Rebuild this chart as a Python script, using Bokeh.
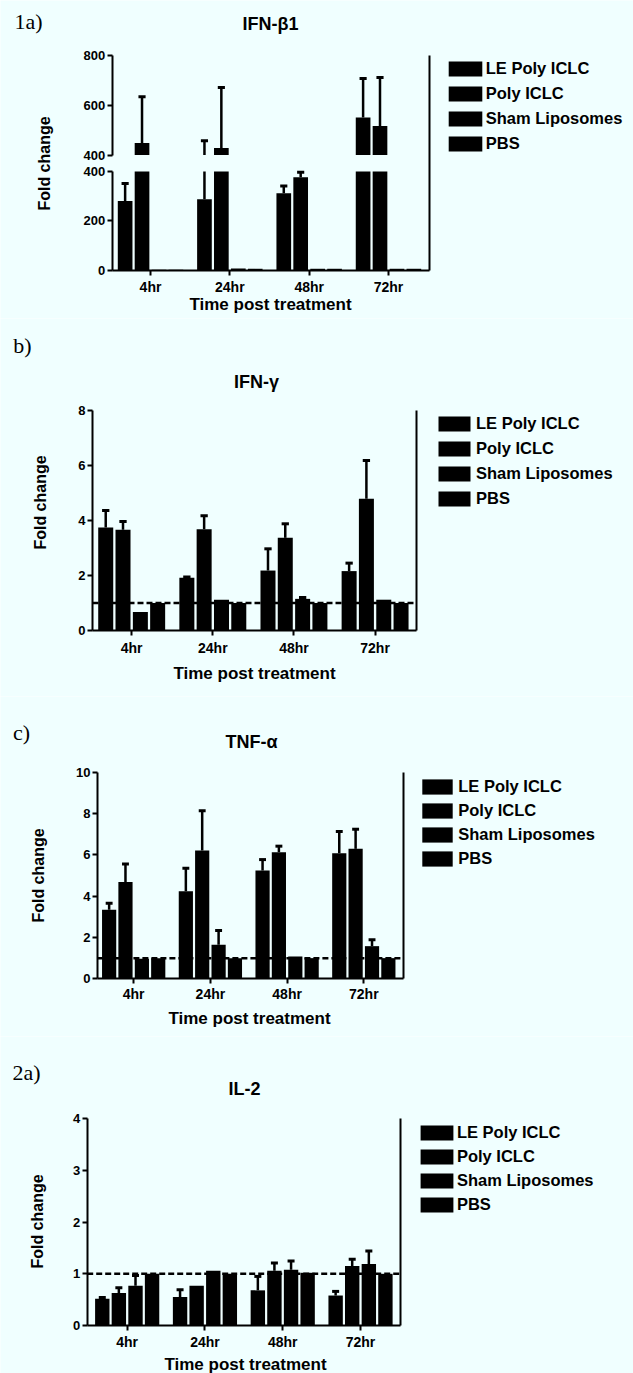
import numpy as np
from bokeh.plotting import figure
from bokeh.models import Range1d, FixedTicker, Label, Legend, LegendItem, LinearAxis
from bokeh.layouts import column
from bokeh.embed import file_html
from bokeh.resources import INLINE

# ---------------- data ----------------
times = ["4hr", "24hr", "48hr", "72hr"]
series = ["LE Poly ICLC", "Poly ICLC", "Sham Liposomes", "PBS"]

# 1a) IFN-beta1  (broken axis 0-400 / 400-800)
ifnb_le = [280, 287, 312, 551]
ifnb_le_err = [71, 170, 29, 157]
ifnb_poly = [448, 428, 377, 517]
ifnb_poly_err = [186, 243, 20, 195]
ifnb_sham = [1, 6, 5, 5]
ifnb_sham_err = [0, 0, 0, 0]
ifnb_pbs = [1, 5, 5, 5]
ifnb_pbs_err = [0, 0, 0, 0]
ifnb_lower_ticks = [0, 200, 400]
ifnb_upper_ticks = [400, 600, 800]

# b) IFN-gamma
ifng_le = [3.75, 1.92, 2.18, 2.16]
ifng_le_err = [0.61, 0.03, 0.79, 0.29]
ifng_poly = [3.66, 3.68, 3.37, 4.79]
ifng_poly_err = [0.30, 0.49, 0.51, 1.39]
ifng_sham = [0.67, 1.12, 1.15, 1.12]
ifng_sham_err = [0.0, 0.0, 0.05, 0.0]
ifng_pbs = [1.0, 1.0, 1.0, 1.0]
ifng_pbs_err = [0.0, 0.0, 0.0, 0.0]
ifng_ticks = [0, 2, 4, 6, 8]

# c) TNF-alpha
tnfa_le = [3.34, 4.24, 5.24, 6.08]
tnfa_le_err = [0.32, 1.11, 0.53, 1.05]
tnfa_poly = [4.68, 6.21, 6.13, 6.29]
tnfa_poly_err = [0.88, 1.93, 0.29, 0.95]
tnfa_sham = [0.97, 1.65, 1.08, 1.58]
tnfa_sham_err = [0.0, 0.69, 0.0, 0.31]
tnfa_pbs = [1.0, 1.0, 1.0, 1.0]
tnfa_pbs_err = [0.0, 0.0, 0.0, 0.0]
tnfa_ticks = [0, 2, 4, 6, 8, 10]

# 2a) IL-2
il2_le = [0.52, 0.55, 0.68, 0.58]
il2_le_err = [0.02, 0.14, 0.27, 0.08]
il2_poly = [0.63, 0.77, 1.06, 1.15]
il2_poly_err = [0.10, 0.0, 0.15, 0.13]
il2_sham = [0.77, 1.06, 1.08, 1.19]
il2_sham_err = [0.20, 0.0, 0.17, 0.25]
il2_pbs = [1.0, 1.0, 1.02, 1.0]
il2_pbs_err = [0.0, 0.0, 0.0, 0.0]
il2_ticks = [0, 1, 2, 3, 4]

REF_LEVEL = 1.0   # dashed "no change" line

# ---------------- style ----------------
BG = "#F0FFFF"
FONT = "Liberation Sans"
SERIF = "Liberation Serif"
W = 633
OFFSETS = [-0.32, -0.107, 0.107, 0.32]
BAR_W = 0.185
CAP = 0.045


def draw_series(p, xs, vals, errs, lo, hi, rname):
    xs = np.asarray(xs, float)
    vals = np.asarray(vals, float)
    errs = np.asarray(errs, float)
    bot = np.full_like(vals, lo)
    top = np.minimum(vals, hi)
    m = top > bot
    r = p.vbar(x=xs[m], bottom=bot[m], top=top[m], width=BAR_W,
               fill_color="black", line_color=None, y_range_name=rname)
    e0 = np.clip(vals, lo, hi)
    e1 = np.clip(vals + errs, lo, hi)
    m = e1 > e0
    p.segment(x0=xs[m], y0=e0[m], x1=xs[m], y1=e1[m], line_color="black",
              line_width=2.5, y_range_name=rname)
    cap = vals + errs
    m = (errs > 0) & (cap >= lo) & (cap <= hi)
    p.segment(x0=xs[m] - CAP, y0=cap[m], x1=xs[m] + CAP, y1=cap[m],
              line_color="black", line_width=3, y_range_name=rname)
    return r


def style_axis(a, size):
    a.axis_line_width = 2
    a.axis_line_color = "black"
    a.major_tick_line_width = 2
    a.major_tick_line_color = "black"
    a.minor_tick_line_color = None
    a.major_tick_in = 0
    a.major_tick_out = 5
    a.major_label_text_font = FONT
    a.major_label_text_font_style = "bold"
    a.major_label_text_font_size = size
    a.major_label_text_color = "black"


def make_panel(g, data, title, letter, yticks=None, ymax=None, broken=False):
    ftop, fbot = g["fig_top"], g["fig_bot"]
    H = fbot - ftop
    ax, rx = g["axis_x"], g["right_x"]
    y0, yt = g["y0"], g["ytop"]
    x0, x1 = g["xr"]
    sx = (rx - ax) / (x1 - x0)
    if broken:
        sy = (y0 - g["y400l"]) / 400.0
    else:
        sy = (y0 - yt) / ymax

    def DX(px):
        return x0 + (px - ax) / sx

    def DY(py):
        return (y0 - py) / sy

    p = figure(width=W, height=H, title=None,
               x_range=Range1d(DX(0), DX(W)), y_range=Range1d(DY(fbot), DY(ftop)),
               output_backend="svg", toolbar_location=None, min_border=0)
    p.background_fill_color = BG
    p.border_fill_color = BG
    p.outline_line_color = None
    p.xgrid.visible = False
    p.ygrid.visible = False

    xs_all = [[i + OFFSETS[k] for i in range(len(times))] for k in range(4)]
    renderers = []
    if broken:
        py_u = (g["y400u"] - yt) / 400.0
        p.extra_y_ranges = {"upper": Range1d(400 - (fbot - g["y400u"]) / py_u,
                                             400 + (g["y400u"] - ftop) / py_u)}
        for k, (v, e) in enumerate(data):
            r = draw_series(p, xs_all[k], v, e, 0, 400, "default")
            draw_series(p, xs_all[k], v, e, 400, 800, "upper")
            renderers.append(r)
        ytop_val = DY(yt)
    else:
        for k, (v, e) in enumerate(data):
            r = draw_series(p, xs_all[k], v, e, 0, ymax, "default")
            renderers.append(r)
        ytop_val = ymax
        p.segment(x0=[x0], x1=[x1], y0=[REF_LEVEL], y1=[REF_LEVEL], line_color="black",
                  line_width=2.5, line_dash="6 3")

    # x axis (category ticks), fixed at y = 0
    xa = p.xaxis[0]
    xa.fixed_location = 0
    xa.bounds = (x0, x1)
    xa.ticker = FixedTicker(ticks=list(range(len(times))))
    xa.major_label_overrides = {i: t for i, t in enumerate(times)}
    xa.major_label_standoff = g["xstand"]
    style_axis(xa, "14px")

    # y axis fixed at the left edge of the data area
    ya = p.yaxis[0]
    ya.fixed_location = x0
    if broken:
        ya.ticker = FixedTicker(ticks=ifnb_lower_ticks)
        ya.bounds = (0, 400)
        ya2 = LinearAxis(y_range_name="upper", fixed_location=x0, bounds=(400, 800),
                         ticker=FixedTicker(ticks=ifnb_upper_ticks))
        ya2.major_label_standoff = 2
        style_axis(ya2, "13px")
        p.add_layout(ya2, "left")
    else:
        ya.ticker = FixedTicker(ticks=yticks)
        ya.bounds = (0, ymax)
    ya.major_label_standoff = 2
    style_axis(ya, "13px")

    # right frame line
    rax = LinearAxis(fixed_location=x1, bounds=(0, ytop_val), ticker=FixedTicker(ticks=[]))
    rax.axis_line_width = 2
    rax.axis_line_color = "black"
    rax.major_tick_line_color = None
    rax.minor_tick_line_color = None
    rax.major_label_text_font_size = "0px"
    p.add_layout(rax, "right")

    # legend
    gw = (g["lg_x1"] - g["lg_x0"]) / 0.8
    gh = 19
    box_left = g["lg_x0"] - 0.1 * gw
    spacing = int(round(g["lg_dy"] - gh))
    leg_top = g["lg_y"] - gh / 2.0
    leg_h = 4 * gh + 3 * spacing
    standoff = max(0, int(round(g["lg_lx"] - (g["lg_x1"] + 0.1 * gw))))
    items = [LegendItem(label=s, renderers=[r]) for s, r in zip(series, renderers)]
    leg = Legend(items=items, location=(box_left, fbot - (leg_top + leg_h)),
                 glyph_width=int(round(gw)), glyph_height=gh, label_height=gh,
                 label_standoff=standoff, spacing=spacing, padding=0, margin=0,
                 border_line_color=None, background_fill_alpha=0,
                 label_text_font=FONT, label_text_font_style="bold",
                 label_text_font_size="16.5px", label_text_color="black")
    p.add_layout(leg)

    def lab(text, pos, size, font=FONT, style="bold", angle=0.0):
        p.add_layout(Label(x=DX(pos[0]), y=DY(pos[1]), text=text, text_font=font,
                           text_font_size=size, text_font_style=style, text_color="black",
                           text_align="center", text_baseline="middle", angle=angle))

    lab(title, g["title"], "18px")
    lab(letter, g["letter"], "22px", font=SERIF, style="normal")
    lab("Fold change", g["fold"], "16px", angle=np.pi / 2)
    lab("Time post treatment", g["xlabel"], "17px")
    return p


g1 = dict(fig_top=0, fig_bot=318, axis_x=111.7, right_x=429, y0=269.5, ytop=55,
          xr=(-0.483, 3.517), y400l=171, y400u=154.5, xstand=4,
          title=(270, 23), letter=(28, 21), fold=(44, 163), xlabel=(270, 304),
          lg_x0=448, lg_x1=482, lg_y=68, lg_dy=25, lg_lx=485)
g2 = dict(fig_top=318, fig_bot=696, axis_x=92, right_x=415.8, y0=630, ytop=410,
          xr=(-0.483, 3.508), xstand=4,
          title=(256, 381), letter=(22, 345), fold=(40, 502), xlabel=(254, 673),
          lg_x0=438, lg_x1=470, lg_y=423, lg_dy=25.5, lg_lx=476)
g3 = dict(fig_top=696, fig_bot=1036, axis_x=96.9, right_x=402.9, y0=978.3, ytop=771.7,
          xr=(-0.473, 3.516), xstand=2,
          title=(251, 741), letter=(21, 732), fold=(38, 875), xlabel=(249, 1018),
          lg_x0=422, lg_x1=452, lg_y=786, lg_dy=23.7, lg_lx=458)
g4 = dict(fig_top=1036, fig_bot=1373, axis_x=86.7, right_x=400, y0=1325, ytop=1118.3,
          xr=(-0.514, 3.514), xstand=3,
          title=(244, 1088), letter=(26, 1072), fold=(37, 1221), xlabel=(245, 1364),
          lg_x0=420, lg_x1=453, lg_y=1132, lg_dy=23.7, lg_lx=456)

p1 = make_panel(g1, [(ifnb_le, ifnb_le_err), (ifnb_poly, ifnb_poly_err),
                     (ifnb_sham, ifnb_sham_err), (ifnb_pbs, ifnb_pbs_err)],
                "IFN-β1", "1a)", broken=True)
p2 = make_panel(g2, [(ifng_le, ifng_le_err), (ifng_poly, ifng_poly_err),
                     (ifng_sham, ifng_sham_err), (ifng_pbs, ifng_pbs_err)],
                "IFN-γ", "b)", yticks=ifng_ticks, ymax=8)
p3 = make_panel(g3, [(tnfa_le, tnfa_le_err), (tnfa_poly, tnfa_poly_err),
                     (tnfa_sham, tnfa_sham_err), (tnfa_pbs, tnfa_pbs_err)],
                "TNF-α", "c)", yticks=tnfa_ticks, ymax=10)
p4 = make_panel(g4, [(il2_le, il2_le_err), (il2_poly, il2_poly_err),
                     (il2_sham, il2_sham_err), (il2_pbs, il2_pbs_err)],
                "IL-2", "2a)", yticks=il2_ticks, ymax=4)

layout = column(p1, p2, p3, p4, spacing=0)
open("out.html", "w").write(file_html(layout, INLINE))
